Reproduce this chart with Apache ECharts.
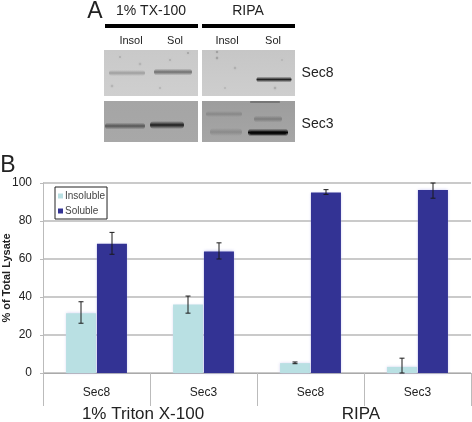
<!DOCTYPE html>
<html><head><meta charset="utf-8">
<style>html,body{margin:0;padding:0;background:#fff}#c{width:472px;height:422px}</style>
<script src="https://cdn.jsdelivr.net/npm/echarts@6/dist/echarts.min.js"></script>
</head><body><div id="c"></div>
<script>
const categories = ['Sec8', 'Sec3', 'Sec8', 'Sec3'];
const groups = ['1% Triton X-100', 'RIPA'];
const yTicks = [0, 20, 40, 60, 80, 100];
const insoluble = [31.5, 36, 5.2, 3.2];
const soluble = [68, 64, 95, 96.3];
const insolubleLow = [26.2, 31.5, 4.9, 0];
const insolubleHigh = [37.5, 40.5, 5.8, 7.8];
const solubleLow = [62.5, 60, 94, 92];
const solubleHigh = [74, 68.5, 96.5, 100];

const FONT = '"Liberation Sans", Arial, sans-serif';
const chart = echarts.init(document.getElementById('c'), null, {renderer: 'canvas'});

function errSeries(name, low, high, dx) {
  return {
    type: 'custom', name, silent: true, z: 5,
    data: categories.map((c, i) => [i, low[i], high[i]]),
    encode: {x: 0, y: [1, 2]},
    renderItem(params, api) {
      const a = api.coord([api.value(0), api.value(1)]);
      const b = api.coord([api.value(0), api.value(2)]);
      const x = a[0] + dx;
      const st = {stroke: '#1a1a1a', lineWidth: 1};
      const seg = (x1, y1, x2, y2) => ({type: 'line', shape: {x1, y1, x2, y2}, style: st});
      return {type: 'group', children: [
        seg(x, a[1], x, b[1]),
        seg(x - 2.5, a[1], x + 2.5, a[1]),
        seg(x - 2.5, b[1], x + 2.5, b[1])
      ]};
    }
  };
}

function txt(x, y, text, size, extra) {
  return {type: 'text', x, y, z: 20, style: Object.assign({
    text, fontSize: size, fontFamily: FONT, fill: '#222', align: 'center', verticalAlign: 'middle'
  }, extra || {})};
}
function panel(x, y, w, h, top, bottom) {
  return {type: 'rect', z: 10, shape: {x, y, width: w, height: h},
    style: {fill: new echarts.graphic.LinearGradient(0, 0, 0, 1, [{offset: 0, color: top}, {offset: 1, color: bottom}])}};
}
// Soft western-blot band: vertical fade on a grey colour.
function band(cx, cy, w, h, rgb, alpha) {
  const c = a => 'rgba(' + rgb + ',' + a + ')';
  return {type: 'rect', z: 11, shape: {x: cx - w / 2, y: cy - h / 2, width: w, height: h, r: h / 2},
    style: {fill: new echarts.graphic.LinearGradient(0, 0, 0, 1, [
      {offset: 0, color: c(0)}, {offset: 0.5, color: c(alpha)}, {offset: 1, color: c(0)}
    ])}};
}
function speck(x, y, r, color) {
  return {type: 'circle', z: 11, shape: {cx: x, cy: y, r},
    style: {fill: color, opacity: 0.5, shadowBlur: 2, shadowColor: color}};
}

const blot = [
  panel(104, 50, 94, 46, '#c9c9c9', '#cfcfcf'),
  panel(202, 50, 93, 46, '#c6c6c6', '#cecece'),
  panel(104, 101, 94, 41, '#a5a5a5', '#a8a8a8'),
  panel(202, 101, 93, 41, '#9d9d9d', '#a6a6a6'),
  band(127, 73, 36, 6, '90,90,90', 0.4),
  band(173, 72, 38, 7, '60,60,60', 0.65),
  band(274, 79.5, 35, 6, '25,25,25', 0.95),
  band(125, 126, 40, 7, '50,50,50', 0.7),
  band(167, 125, 34, 8, '20,20,20', 0.95),
  band(226, 132, 32, 8, '90,90,90', 0.35),
  band(224, 114, 36, 6, '90,90,90', 0.35),
  band(268, 132.5, 40, 8, '5,5,5', 1),
  band(268, 133, 36, 5, '5,5,5', 1),
  band(268, 119, 28, 7, '70,70,70', 0.4),
  band(265, 102, 30, 3, '60,60,60', 0.6),
  speck(120, 57, 1, '#999'), speck(140, 64, 1.2, '#a5a5a5'), speck(170, 60, 1, '#999'),
  speck(188, 53, 1, '#888'), speck(112, 86, 1.2, '#a5a5a5'), speck(160, 88, 1, '#a0a0a0'),
  speck(217, 52, 1, '#777'), speck(217, 58, 1.2, '#8a8a8a'), speck(235, 68, 1.2, '#a0a0a0'),
  speck(275, 88, 1.2, '#999'), speck(225, 88, 1, '#a5a5a5'), speck(282, 60, 1, '#aaa')
];

const groupPadRight = [14, 6];

chart.setOption({
  animation: false,
  backgroundColor: '#fff',
  grid: {left: 43, right: 1, top: 183, bottom: 49, containLabel: false, outerBoundsMode: 'none'},
  legend: {
    left: 55, top: 187, orient: 'vertical', itemWidth: 5, itemHeight: 5, itemGap: 5,
    padding: [4, 2, 3, 3], icon: 'rect', borderColor: '#222', borderWidth: 1, borderRadius: 0, backgroundColor: '#fff',
    data: ['Insoluble', 'Soluble'], z: 8,
    textStyle: {fontFamily: FONT, fontSize: 10, color: '#444', padding: [0, 0, 0, -3], lineHeight: 10}
  },
  xAxis: [{
    type: 'category', data: categories, position: 'bottom',
    axisLine: {lineStyle: {color: '#aaa', width: 1}},
    axisTick: {show: true, length: 33, alignWithLabel: false, lineStyle: {color: '#bbb', width: 1}},
    axisLabel: {fontFamily: FONT, fontSize: 12, color: '#222', margin: 14}
  }, {
    type: 'category', position: 'bottom',
    data: groups.map((g, i) => ({value: g, textStyle: {padding: [0, groupPadRight[i], 0, 0]}})),
    axisLine: {show: false}, axisTick: {show: false},
    axisLabel: {fontFamily: FONT, fontSize: 17, color: '#222', margin: 33}
  }],
  yAxis: {
    type: 'value', min: 0, max: 100, interval: 20,
    name: '% of Total Lysate', nameLocation: 'middle', nameGap: 31, nameRotate: 90, nameMoveOverlap: false,
    nameTextStyle: {fontFamily: FONT, fontSize: 11, fontWeight: 'bold', color: '#222'},
    axisLine: {show: true, lineStyle: {color: '#bbb', width: 1}},
    axisTick: {show: true, length: 3, lineStyle: {color: '#bbb'}},
    axisLabel: {fontFamily: FONT, fontSize: 12, color: '#222', margin: 11,
      formatter: v => yTicks.includes(v) ? String(v) : ''},
    splitLine: {show: true, lineStyle: {color: '#b8b8b8', width: 1.5}}
  },
  series: [
    {name: 'Insoluble', type: 'bar', data: insoluble, barWidth: 30, barGap: '3%', z: 3,
      itemStyle: {color: '#b9e0e3', shadowBlur: 3, shadowColor: 'rgba(205,205,240,0.9)'}},
    {name: 'Soluble', type: 'bar', data: soluble, barWidth: 30, barGap: '3%', z: 3,
      itemStyle: {color: '#333394', shadowBlur: 3, shadowColor: 'rgba(190,190,240,0.9)'}},
    errSeries('insolErr', insolubleLow, insolubleHigh, -15.5),
    errSeries('solErr', solubleLow, solubleHigh, 15.5)
  ],
  graphic: {elements: [
    txt(95, 12, 'A', 23),
    txt(8, 166, 'B', 23),
    txt(151, 11, '1% TX-100', 14),
    txt(248, 11, 'RIPA', 14),
    {type: 'rect', z: 12, shape: {x: 105, y: 24, width: 93, height: 4}, style: {fill: '#000'}},
    {type: 'rect', z: 12, shape: {x: 202, y: 24, width: 93, height: 4}, style: {fill: '#000'}},
    txt(131, 41, 'Insol', 11),
    txt(175, 41, 'Sol', 11),
    txt(227, 41, 'Insol', 11),
    txt(273, 41, 'Sol', 11),
    txt(317.5, 73, 'Sec8', 14),
    txt(317.5, 124, 'Sec3', 14)
  ].concat(blot)}
});
</script></body></html>
